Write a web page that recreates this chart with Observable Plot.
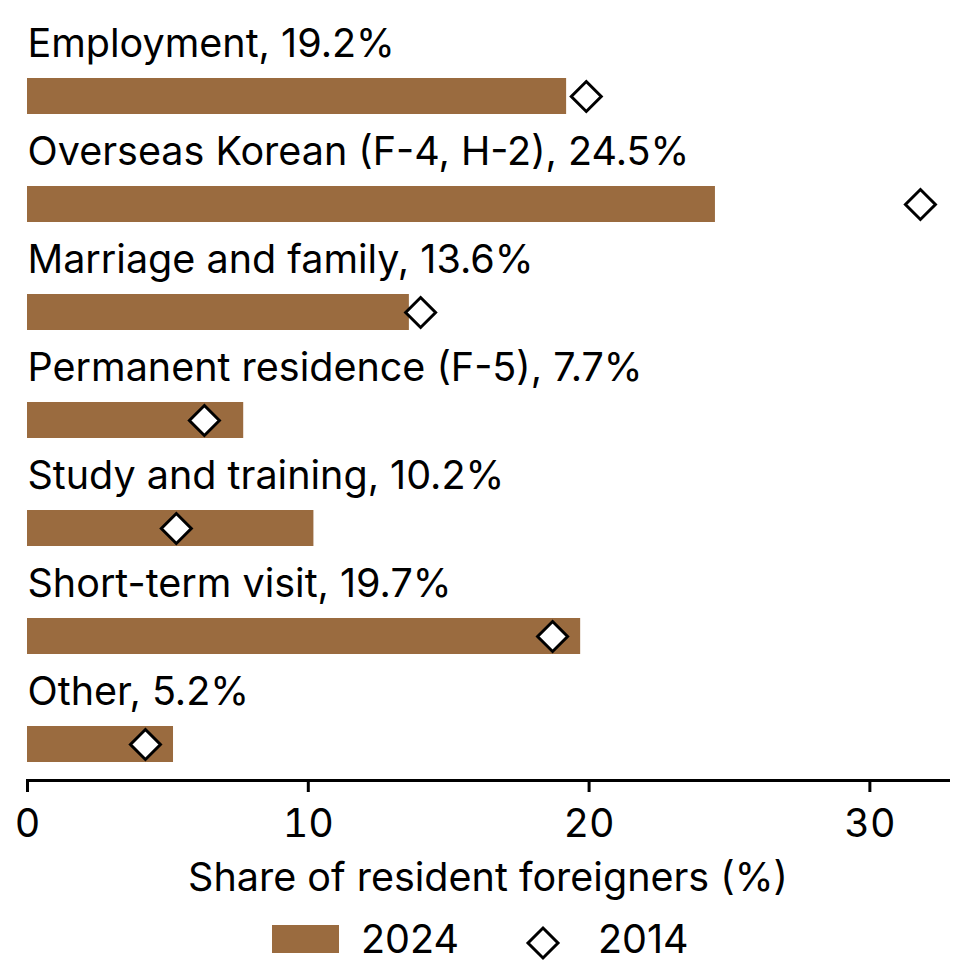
<!DOCTYPE html>
<html>
<head>
<meta charset="utf-8">
<script src="https://cdn.jsdelivr.net/npm/d3@7"></script>
<script src="https://cdn.jsdelivr.net/npm/@observablehq/plot@0.6"></script>
<style>
  html, body { margin: 0; padding: 0; background: #fff; }
  body { width: 962px; height: 978px; font-family: Inter, "DejaVu Sans", sans-serif; color: #000; }
  #legend { position: relative; height: 73px; }
  #legend .sw { position: absolute; top: 20px; left: 272px; width: 67px; height: 28px; background: #9a6b3f; }
  #legend .t { position: absolute; font-size: 39.5px; line-height: 1; }
  #legend svg { position: absolute; }
</style>
</head>
<body>
<div id="chart"></div>
<div id="legend">
  <div class="sw"></div>
  <div class="t" id="t2024" style="left:361px; top:15px;">2024</div>
  <svg id="legdia" width="40" height="40" style="left:523px; top:18px;"></svg>
  <div class="t" id="t2014" style="left:598px; top:15px;">2014</div>
</div>
<script>
const categories = [
  "Employment",
  "Overseas Korean (F-4, H-2)",
  "Marriage and family",
  "Permanent residence (F-5)",
  "Study and training",
  "Short-term visit",
  "Other"
];
const share2024 = [19.2, 24.5, 13.6, 7.7, 10.2, 19.7, 5.2];
const share2014 = [19.9, 31.8, 14.0, 6.3, 5.3, 18.7, 4.2];
const xTicks = [0, 10, 20, 30];
const xLabel = "Share of resident foreigners (%)";
const seriesLabels = ["2024", "2014"];

const BROWN = "#9a6b3f";
const FS = 39.5;
const data = categories.map((c, i) => ({cat: c, v2024: share2024[i], v2014: share2014[i]}));

const chart = Plot.plot({
  width: 962,
  height: 905,
  marginTop: 24,
  marginBottom: 125,
  marginLeft: 27,
  marginRight: 14,
  style: {fontFamily: "Inter, sans-serif", color: "#000", background: "#fff"},
  x: {domain: [0, 32.8]},
  y: {domain: categories, padding: 0, axis: null},
  marks: [
    Plot.barX(data, {x: "v2024", y: "cat", fill: BROWN, insetTop: 54, insetBottom: 18}),
    Plot.dot(data, {x: "v2014", y: "cat", dy: 18, symbol: "diamond2", r: 13.5, stroke: "#000", strokeWidth: 3, fill: "#fff"}),
    Plot.text(data, {y: "cat", text: d => `${d.cat}, ${d.v2024}%`, frameAnchor: "left", textAnchor: "start", lineAnchor: "bottom", dy: -22, fontSize: FS, fill: "#000"}),
    Plot.frame({anchor: "bottom", stroke: "#000", strokeWidth: 3}),
    Plot.axisX({ticks: xTicks, tickSize: 12, tickPadding: 16, fontSize: FS, stroke: "#000", strokeWidth: 3, label: null, fill: "#000"}),
    Plot.text([xLabel], {frameAnchor: "bottom", lineAnchor: "bottom", dy: 110, fontSize: FS, fill: "#000"})
  ]
});
document.getElementById("chart").appendChild(chart);

// legend diamond drawn with the same d3 symbol as the chart marks
const r = 13.5;
d3.select("#legdia").append("path")
  .attr("transform", "translate(20,20)")
  .attr("d", d3.symbol(d3.symbolDiamond2, r * r * Math.PI)())
  .attr("fill", "#fff").attr("stroke", "#000").attr("stroke-width", 3);
document.getElementById("t2024").textContent = seriesLabels[0];
document.getElementById("t2014").textContent = seriesLabels[1];
</script>
</body>
</html>
